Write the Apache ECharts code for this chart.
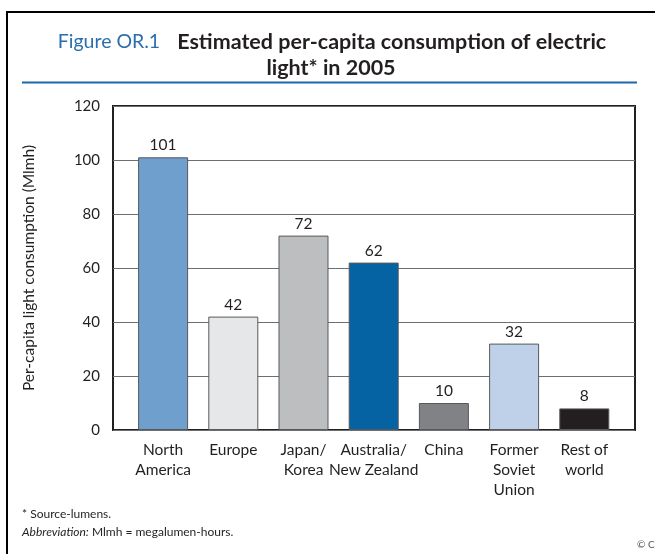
<!DOCTYPE html>
<html>
<head>
<meta charset="utf-8">
<script src="https://cdn.jsdelivr.net/npm/echarts@6/dist/echarts.min.js"></script>
<style>
html,body{margin:0;padding:0;background:#fff;}
#chart{width:655px;height:554px;}
</style>
</head>
<body>
<div id="chart"></div>
<script>
var categories = ['North\nAmerica', 'Europe', 'Japan/\nKorea', 'Australia/\nNew Zealand', 'China', 'Former\nSoviet\nUnion', 'Rest of\nworld'];
var values = [101, 42, 72, 62, 10, 32, 8];
var barColors = ['#6f9fcd', '#e6e7e9', '#bcbec0', '#0562a3', '#808285', '#bfd1e8', '#231f20'];
var yTicks = [0, 20, 40, 60, 80, 100, 120];

var FONT = 'Lato, "Open Sans", sans-serif';
var TXT = '#231f20';

var chart = echarts.init(document.getElementById('chart'), null, {renderer: 'canvas'});
chart.setOption({
  backgroundColor: '#fff',
  animation: false,
  textStyle: {fontFamily: FONT},
  title: [
    {
      text: '{a|Figure OR.1}{s| }{b|Estimated per-capita consumption of electric}',
      left: 327, top: 26, textAlign: 'center',
      textStyle: {
        rich: {
          a: {fontFamily: FONT, fontSize: 19.5, color: '#2a6ead', fontWeight: 'normal'},
          s: {fontSize: 19, width: 17},
          b: {fontFamily: FONT, fontSize: 21.5, color: TXT, fontWeight: 'bold'}
        }
      }
    },
    {
      text: 'light* in 2005',
      left: 326, top: 52, textAlign: 'center',
      textStyle: {fontFamily: FONT, fontSize: 21.5, color: TXT, fontWeight: 'bold'}
    }
  ],
  graphic: [
    {type: 'polyline', shape: {points: [[7, 560], [7, 12], [660, 12]]}, style: {stroke: '#000', lineWidth: 2, fill: null}},
    {type: 'line', shape: {x1: 22, y1: 82.5, x2: 637, y2: 82.5}, style: {stroke: '#1f66a8', lineWidth: 2}},
    {type: 'text', left: 22, top: 508, style: {text: '* Source-lumens.', font: '12px ' + FONT, fill: TXT}},
    {type: 'text', left: 22, top: 526, style: {
      text: '{i|Abbreviation:} Mlmh = megalumen-hours.',
      font: '12px ' + FONT, fill: TXT,
      rich: {i: {fontStyle: 'italic', fontSize: 12, fontFamily: FONT, fill: TXT}}
    }},
    {type: 'text', left: 637, top: 540, style: {text: '\u00a9 C', font: '10px ' + FONT, fill: '#555'}}
  ],
  grid: [
    {left: 113, right: 20, top: 106, bottom: 124, show: true, borderColor: '#231f20', borderWidth: 2, backgroundColor: 'transparent'},
    {left: 128, right: 35.6, top: 106, bottom: 124}
  ],
  xAxis: [
    {gridIndex: 0, type: 'value', min: 0, max: 1, show: false},
    {
      gridIndex: 1, type: 'category', data: categories,
      axisLine: {show: false}, axisTick: {show: false},
      axisLabel: {fontSize: 15.5, color: TXT, lineHeight: 20, margin: 10, interval: 0, fontFamily: FONT}
    }
  ],
  yAxis: [
    {
      gridIndex: 0, type: 'value', min: yTicks[0], max: yTicks[yTicks.length - 1], interval: 20,
      name: 'Per-capita light consumption (Mlmh)', nameLocation: 'middle', nameGap: 76,
      nameTextStyle: {fontSize: 15.5, color: TXT, fontFamily: FONT},
      axisLine: {show: false}, axisTick: {show: false},
      axisLabel: {fontSize: 15, color: TXT, margin: 13, fontFamily: FONT},
      splitLine: {show: true, lineStyle: {color: '#6d6e71', width: 1}}
    },
    {gridIndex: 1, type: 'value', min: yTicks[0], max: yTicks[yTicks.length - 1], show: false, splitLine: {show: false}}
  ],
  series: [{
    type: 'bar', xAxisIndex: 1, yAxisIndex: 1,
    barWidth: 50,
    data: values.map(function (v, i) {
      return {value: v, itemStyle: {color: barColors[i], borderColor: '#58595b', borderWidth: 1}};
    }),
    label: {show: true, position: 'top', distance: 4, fontSize: 15.5, color: TXT, fontFamily: FONT}
  }]
});
</script>
</body>
</html>
